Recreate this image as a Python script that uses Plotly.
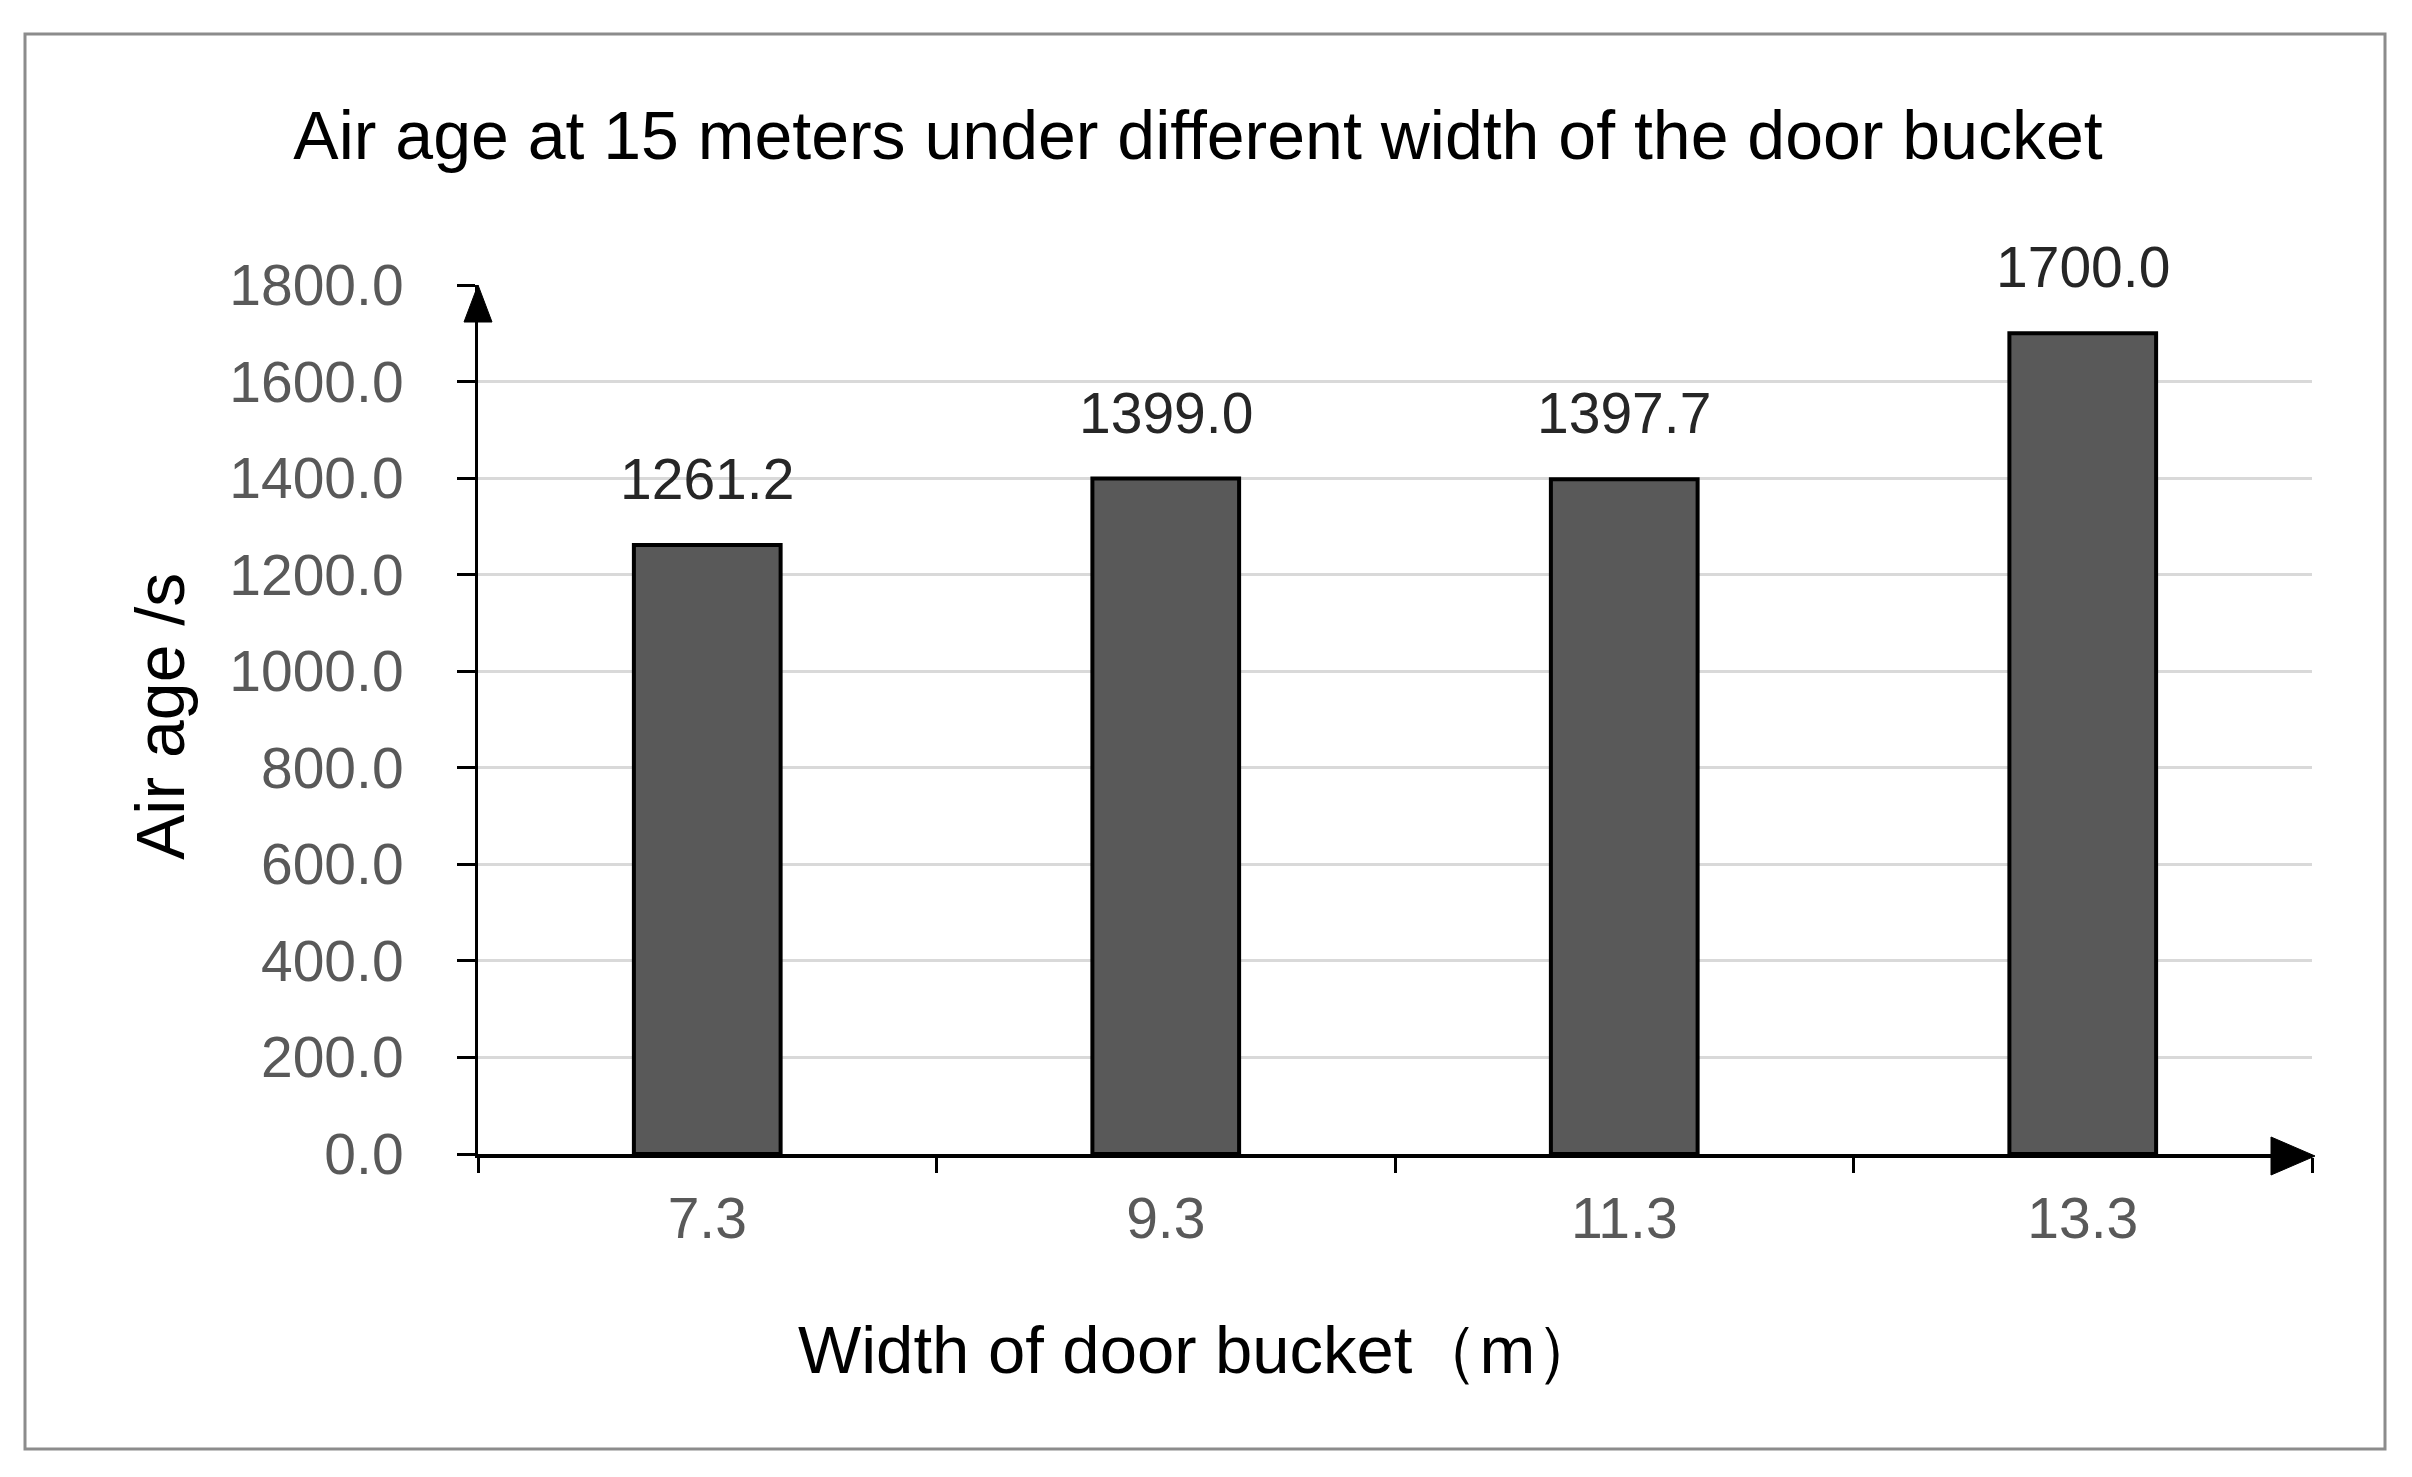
import plotly.graph_objects as go

# data
widths = ["7.3", "9.3", "11.3", "13.3"]
air_age = [1261.2, 1399.0, 1397.7, 1700.0]
y_ticks = [0, 200, 400, 600, 800, 1000, 1200, 1400, 1600, 1800]

W, H = 2412, 1477
OFF = 8  # page body margin in the browser
L, R, T, B = 478 - OFF, 2312 - OFF, 285 - OFF, 1154 - OFF   # plot area in pixels

def px(x):
    return (x - OFF - L) / (R - L)

def py(y):
    return (B - (y - OFF)) / (B - T)

title_font = "Liberation Sans, Arial"
num_font = "Liberation Sans, Arial"

fig = go.Figure()
fig.add_trace(go.Bar(x=widths, y=air_age,
                     marker=dict(color="#595959", line=dict(color="black", width=4)),
                     hoverinfo="x+y"))

# value labels above the bars
for i, v in enumerate(air_age):
    fig.add_annotation(x=i, y=v, text="{:.1f}".format(v), showarrow=False,
                       xanchor="center", yanchor="bottom", yshift=32,
                       font=dict(family=num_font, size=57, color="#262626"))

# axis titles
fig.add_annotation(x=px(1200), y=py(1349), xref="paper", yref="paper",
                   xanchor="center", yanchor="middle",
                   text="Width of door bucket（m）", showarrow=False,
                   font=dict(family=title_font, size=67, color="black"))
fig.add_annotation(x=px(160), y=py(717), xref="paper", yref="paper",
                   xanchor="center", yanchor="middle",
                   text="Air age /s", textangle=-90, showarrow=False,
                   font=dict(family=title_font, size=68, color="black"))

# arrow heads on the axes
fig.add_shape(type="path", xref="paper", yref="paper",
              path="M {} {} L {} {} L {} {} Z".format(px(478), py(285), px(464), py(322), px(492), py(322)),
              fillcolor="black", line=dict(color="black", width=1))
fig.add_shape(type="path", xref="paper", yref="paper",
              path="M {} {} L {} {} L {} {} Z".format(px(2315), py(1156), px(2271), py(1137), px(2271), py(1175)),
              fillcolor="black", line=dict(color="black", width=1))

# outer frame
fig.add_shape(type="rect", xref="paper", yref="paper",
              x0=px(25), x1=px(2385), y0=py(1449), y1=py(34),
              line=dict(color="#8c8c8c", width=3))

fig.update_layout(
    width=W, height=H,
    margin=dict(l=L, r=W - R, t=T, b=H - B),
    paper_bgcolor="white", plot_bgcolor="white",
    showlegend=False,
    bargap=0.68,
    title=dict(text="Air age at 15 meters under different width of the door bucket",
               x=(1198 - OFF) / W, xanchor="center", y=1 - (135 - OFF) / H, yanchor="middle",
               font=dict(family=title_font, size=68, color="black")),
)
fig.update_xaxes(type="category", range=[-0.5, 3.5], tickson="boundaries",
                 ticks="outside", ticklen=15, tickwidth=3, tickcolor="black",
                 showline=True, linecolor="black", linewidth=4,
                 showgrid=False, ticklabelstandoff=12,
                 tickfont=dict(family=num_font, size=57, color="#595959"))
fig.update_yaxes(range=[0, 1800], tickvals=y_ticks, tickformat=".1f",
                 ticks="outside", ticklen=18, tickwidth=3, tickcolor="black",
                 showline=True, linecolor="black", linewidth=3,
                 showgrid=True, gridcolor="#d9d9d9", gridwidth=3,
                 zeroline=False, ticklabelstandoff=42,
                 tickfont=dict(family=num_font, size=57, color="#595959"))

fig.write_html("out.html")
